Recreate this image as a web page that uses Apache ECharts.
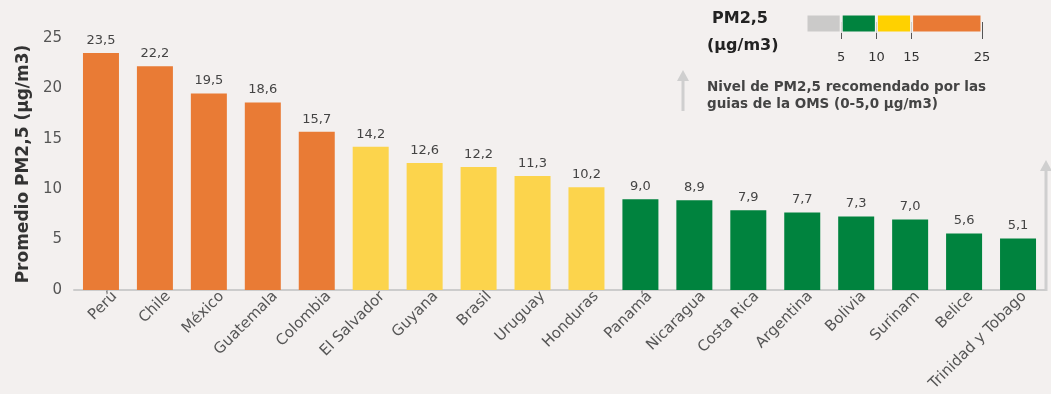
<!DOCTYPE html>
<html>
<head>
<meta charset="utf-8">
<script src="https://cdn.jsdelivr.net/npm/echarts@6/dist/echarts.min.js"></script>
<style>
  html, body { margin: 0; padding: 0; background: #f3f0ef; }
  #chart { width: 1051px; height: 394px; }
</style>
</head>
<body>
<div id="chart"></div>
<script>
// Promedio anual de PM2,5 por país (µg/m3)
const paises = ['Perú', 'Chile', 'México', 'Guatemala', 'Colombia', 'El Salvador', 'Guyana', 'Brasil', 'Uruguay', 'Honduras', 'Panamá', 'Nicaragua', 'Costa Rica', 'Argentina', 'Bolivia', 'Surinam', 'Belice', 'Trinidad y Tobago'];
const promedioPM25 = [23.5, 22.2, 19.5, 18.6, 15.7, 14.2, 12.6, 12.2, 11.3, 10.2, 9.0, 8.9, 7.9, 7.7, 7.3, 7.0, 5.6, 5.1];

// Escala de referencia: tramos 0-5, 5-10, 10-15, 15-25
const tramosEscala = [5, 5, 5, 10];
const marcasEscala = [5, 10, 15, 25];

const FONT = '"DejaVu Sans", sans-serif';
const BG = '#f3f0ef';
const C_GRIS = '#cbcac9', C_VERDE = '#00833e', C_AMARILLO = '#ffd100', C_NARANJA = '#e97a35';
const BAR_NARANJA = '#e97b35', BAR_AMARILLO = '#fcd44c', BAR_VERDE = '#00833e';

function colorBarra(v) {
  if (v > 15) return BAR_NARANJA;
  if (v > 10) return BAR_AMARILLO;
  return BAR_VERDE;
}
const fmt = v => v.toFixed(1).replace('.', ',');

const coloresEscala = [C_GRIS, C_VERDE, C_AMARILLO, C_NARANJA];
const escalaSeries = tramosEscala.map((t, i) => ({
  type: 'bar',
  xAxisIndex: 1,
  yAxisIndex: 1,
  stack: 'escala',
  barWidth: 19,
  data: [t],
  itemStyle: { color: coloresEscala[i], borderColor: BG, borderWidth: 1.5 },
  silent: true
}));

const chart = echarts.init(document.getElementById('chart'));
chart.setOption({
  backgroundColor: BG,
  animation: false,
  textStyle: { fontFamily: FONT },
  grid: [
    { left: 74, right: 6, top: 38, height: 252 },
    { left: 806, width: 176, top: 8, height: 31 },
    // rejilla auxiliar para los nombres de país, desplazada a la derecha
    { left: 88, right: -8, top: 38, height: 252 }
  ],
  xAxis: [
    {
      type: 'category',
      data: paises,
      gridIndex: 0,
      axisLine: { lineStyle: { color: '#cccccc', width: 2 } },
      axisTick: { show: false },
      axisLabel: { show: false }
    },
    {
      type: 'value',
      gridIndex: 1,
      min: 0, max: 25,
      axisLine: { show: false },
      splitLine: { show: false },
      axisTick: { show: true, inside: true, length: 17, customValues: marcasEscala, lineStyle: { color: '#555', width: 1 } },
      axisLabel: { customValues: marcasEscala, fontSize: 13, color: '#333', margin: 12, fontFamily: FONT }
    },
    {
      type: 'category',
      data: paises,
      gridIndex: 2,
      axisLine: { show: false },
      axisTick: { show: false },
      axisLabel: { interval: 0, rotate: 45, fontSize: 15, color: '#555', fontFamily: FONT, margin: 15 }
    }
  ],
  yAxis: [
    {
      type: 'value',
      gridIndex: 0,
      min: 0, max: 25, interval: 5,
      name: 'Promedio PM2,5 (µg/m3)',
      nameLocation: 'middle',
      nameGap: 35,
      nameTextStyle: { fontSize: 17, fontWeight: 'bold', color: '#333', fontFamily: FONT },
      axisLine: { show: false },
      axisTick: { show: false },
      splitLine: { show: false },
      axisLabel: { fontSize: 15, color: '#555', margin: 12, fontFamily: FONT }
    },
    {
      type: 'category',
      gridIndex: 1,
      data: ['PM2,5'],
      show: false
    },
    {
      type: 'value',
      gridIndex: 2,
      min: 0, max: 25,
      show: false
    }
  ],
  graphic: [
    { type: 'text', left: 712, top: 11, style: { text: 'PM2,5', font: 'bold 16px ' + FONT, fill: '#222' } },
    { type: 'text', left: 707, top: 38, style: { text: '(µg/m3)', font: 'bold 16px ' + FONT, fill: '#222' } },
    { type: 'text', left: 707, top: 79, style: { text: 'Nivel de PM2,5 recomendado por las\nguias de la OMS (0-5,0 µg/m3)', font: 'bold 13.5px ' + FONT, fill: '#444', lineHeight: 17 } },
    // flecha junto a la nota
    { type: 'line', shape: { x1: 683, y1: 111, x2: 683, y2: 78 }, style: { stroke: '#cfcfcf', lineWidth: 3 } },
    { type: 'polygon', shape: { points: [[683, 70], [677, 81], [689, 81]] }, style: { fill: '#cfcfcf' } },
    // flecha del extremo derecho
    { type: 'line', shape: { x1: 1046, y1: 291, x2: 1046, y2: 168 }, style: { stroke: '#cfcfcf', lineWidth: 3 } },
    { type: 'polygon', shape: { points: [[1046, 160], [1040, 171], [1052, 171]] }, style: { fill: '#cfcfcf' } }
  ],
  series: [
    {
      type: 'bar',
      xAxisIndex: 0,
      yAxisIndex: 0,
      barWidth: 36,
      data: promedioPM25.map(v => ({ value: v, itemStyle: { color: colorBarra(v) } })),
      label: {
        show: true,
        position: 'top',
        distance: 6,
        fontSize: 13,
        color: '#444',
        fontFamily: FONT,
        formatter: p => fmt(p.value)
      }
    }
  ].concat(escalaSeries)
});
</script>
</body>
</html>
